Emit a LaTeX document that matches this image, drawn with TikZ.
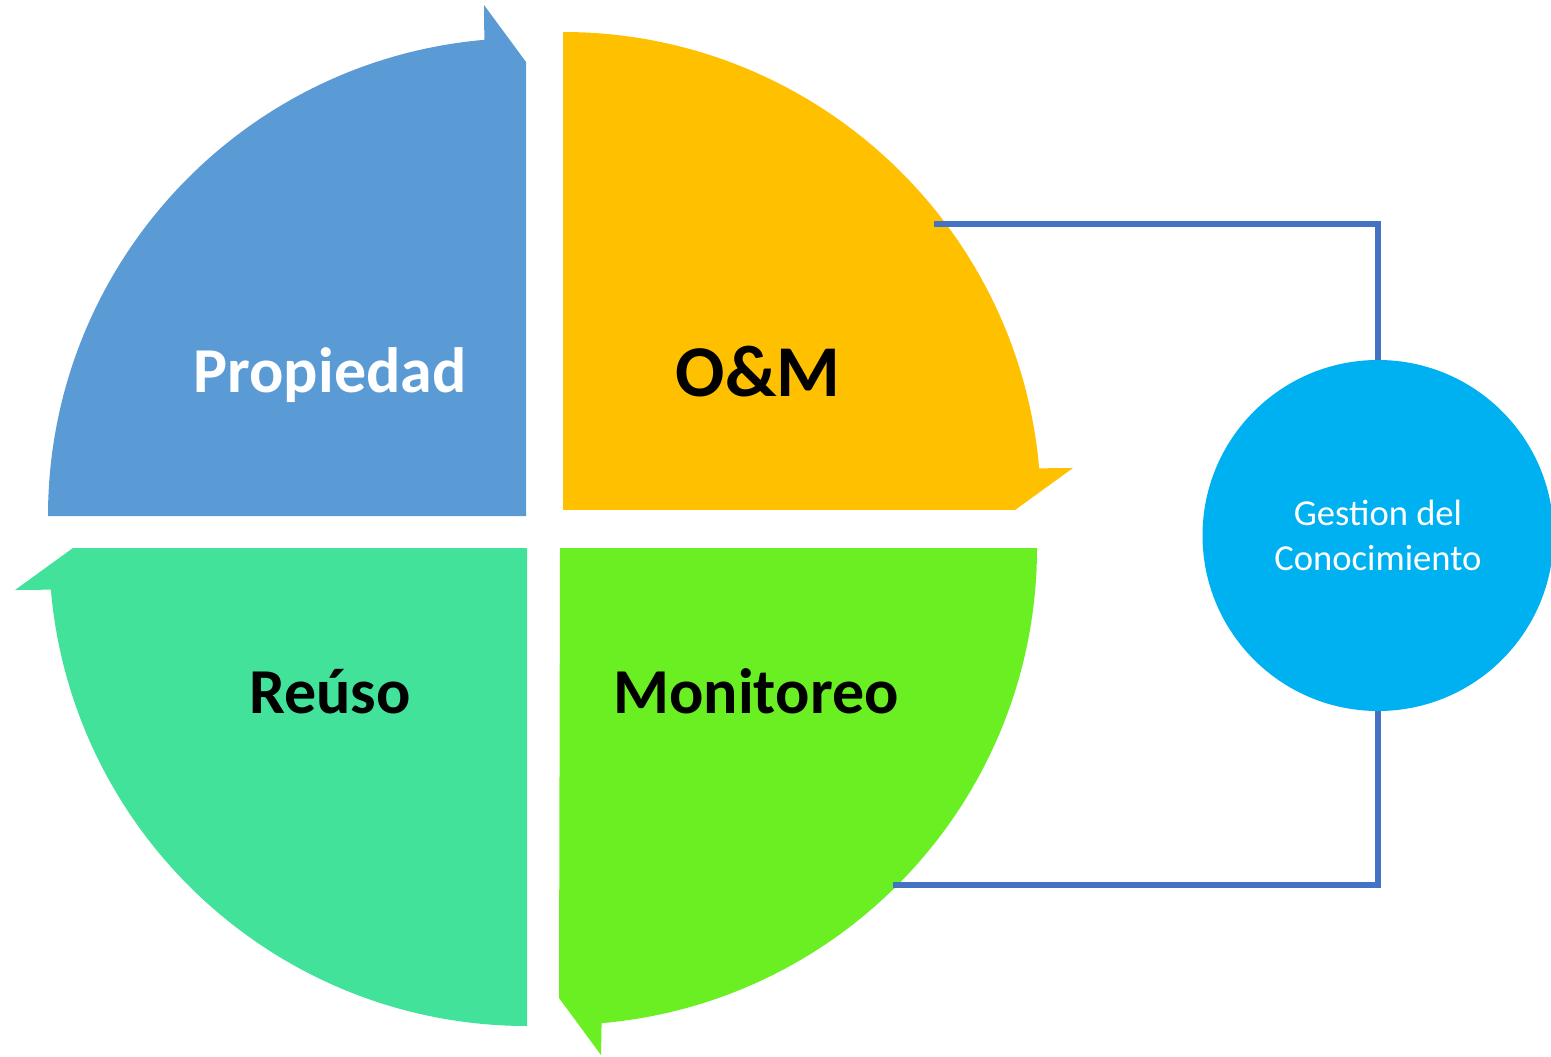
\documentclass[tikz,border=0pt]{standalone}
\usepackage{fontspec}
\setmainfont{Carlito}
\definecolor{qblue}{HTML}{5B9BD5}
\definecolor{qyellow}{HTML}{FFC000}
\definecolor{qgreen}{HTML}{6AEF23}
\definecolor{qteal}{HTML}{42E29B}
\definecolor{gcirc}{HTML}{00B1F1}
\definecolor{lnk}{HTML}{4472C4}
\begin{document}
\begin{tikzpicture}[x=0.5pt,y=0.5pt,
  qlabel/.style={font=\fontsize{32}{38}\selectfont\bfseries, anchor=base, inner sep=0pt},
  link/.style={draw=lnk, line width=3pt}]
\useasboundingbox (0,0) rectangle (1551,1056);
\clip (0,0) rectangle (1551,1056);
% quadrants
\fill[qblue] (48,540) arc[start angle=180,end angle=95,radius=478] -- (484,1051) -- (526,994) -- (526,540) -- cycle;
\fill[qyellow] (563,1024) arc[start angle=90,end angle=5,radius=478] -- (1073,588) -- (1015,546) -- (563,546) -- cycle;
\fill[qgreen] (1037,508) arc[start angle=0,end angle=-85,radius=477] -- (601,1) -- (559,58) -- (560,508) -- cycle;
\fill[qteal] (527,30) arc[start angle=270,end angle=185,radius=478] -- (15,466) -- (73,508) -- (527,508) -- cycle;
% labels
\node[qlabel, text=white] (prop) at (330,663) {Propiedad};
\node[qlabel, font=\fontsize{36.5}{42}\selectfont\bfseries] (om) at (758,659) {O\&M};
\node[qlabel] (reuso) at (330,343) {Reúso};
\node[qlabel] (moni) at (756,343) {Monitoreo};
% knowledge circle
\node[circle, fill=gcirc, minimum size=175.5pt, inner sep=0pt, text=white, align=center,
  font=\fontsize{18.3}{22.5}\selectfont] (g) at (1378,520.5) {Gestion del\\Conocimiento};
\coordinate (a) at (934,832);
\coordinate (b) at (893,171);
\draw[link] (a) -| (g.north);
\draw[link] (g.south) |- (b);
\end{tikzpicture}
\end{document}
